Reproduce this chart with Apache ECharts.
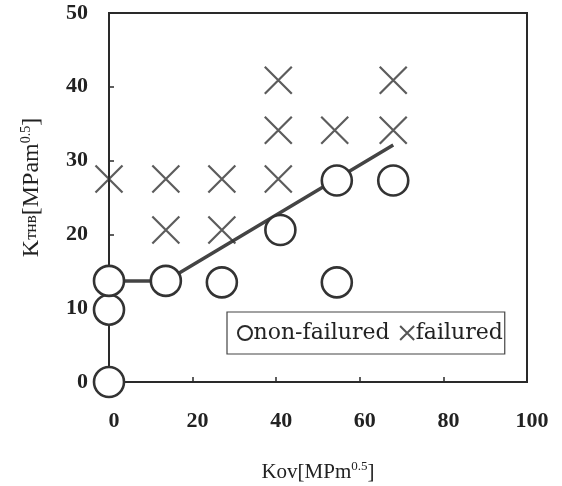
<!DOCTYPE html>
<html><head><meta charset="utf-8">
<script src="https://cdn.jsdelivr.net/npm/echarts@6/dist/echarts.min.js"></script>
<style>html,body{margin:0;padding:0;background:#fff}#c{width:562px;height:486px}</style>
</head><body><div id="c"></div>
<script>
const nonFailured = [[0,0],[0,9.8],[0,13.7],[13.6,13.7],[27,13.5],[54.5,13.5],[41,20.6],[54.5,27.3],[68,27.3]];
const failured = [[0,27.5],[13.6,27.5],[27,27.5],[40.5,27.5],[13.6,20.6],[27,20.6],[40.5,34.1],[54,34.1],[68,34.1],[40.5,40.9],[68,40.9]];
const fitLine = [[0,13.7],[13.6,13.7],[68,32.1]];
const xTicks = [0,20,40,60,80,100];
const yTicks = [0,10,20,30,40,50];

const font = 'Liberation Serif';
const ink = '#2a2a2a';
const crossPath = 'path://M0,0L10,10M10,0L0,10';
const chart = echarts.init(document.getElementById('c'));
chart.setOption({
  animation:false,
  backgroundColor:'#fff',
  grid:{left:109,right:35,top:13,bottom:104,show:true,borderColor:ink,borderWidth:2,containLabel:false,outerBoundsMode:'none'},
  xAxis:{type:'value',min:xTicks[0],max:xTicks[xTicks.length-1],interval:20,
    axisLine:{show:true,lineStyle:{color:ink,width:2}},
    axisTick:{show:true,inside:true,length:5,lineStyle:{color:ink,width:1.5}},
    splitLine:{show:false},
    axisLabel:{margin:28,padding:[0,0,0,10],fontFamily:font,fontSize:22,fontWeight:'bold',color:'#222'},
    name:'{b|Kov[MPm}{sup|0.5}{b|]}',nameLocation:'middle',nameGap:78,
    nameTextStyle:{rich:{b:{fontFamily:font,fontSize:21,color:'#222'},sup:{fontFamily:font,fontSize:13,color:'#222',verticalAlign:'bottom',padding:[0,0,11,0]}}}
  },
  yAxis:{type:'value',min:yTicks[0],max:yTicks[yTicks.length-1],interval:10,
    axisLine:{show:true,lineStyle:{color:ink,width:2}},
    axisTick:{show:true,inside:true,length:5,lineStyle:{color:ink,width:1.5}},
    splitLine:{show:false},
    axisLabel:{margin:21,padding:[9,0,0,0],fontFamily:font,fontSize:22,fontWeight:'bold',color:'#222'},
    name:'{b|K}{sub|тнв}{b|[MPam}{sup|0.5}{b|]}',nameLocation:'middle',nameGap:64,nameRotate:90,
    nameTextStyle:{padding:[0,0,0,20],rich:{b:{fontFamily:font,fontSize:24,color:'#222'},sub:{fontFamily:font,fontSize:17,color:'#222'},sup:{fontFamily:font,fontSize:14,color:'#222',verticalAlign:'bottom',padding:[0,0,12,0]}}}
  },
  legend:{
    left:227,top:312,
    padding:[10,2,10,10],itemGap:8,itemWidth:15,itemHeight:14,
    borderColor:'#444',borderWidth:1.2,borderRadius:0,
    textStyle:{fontFamily:'DejaVu Serif',fontSize:22,color:'#222',padding:[0,0,0,-4]},
    data:[
      {name:'non-failured',icon:'circle',itemStyle:{color:'#fff',borderColor:ink,borderWidth:2}},
      {name:'failured',icon:crossPath,itemStyle:{color:'none',borderColor:ink,borderWidth:2}}
    ]
  },
  series:[
    {type:'line',name:'fit',data:fitLine,symbol:'none',z:1,
      lineStyle:{color:'#444',width:3.5}},
    {type:'scatter',name:'failured',data:failured,symbol:crossPath,symbolSize:27,clip:false,z:3,
      itemStyle:{color:'none',borderColor:'#333',borderWidth:2.2}},
    {type:'scatter',name:'non-failured',data:nonFailured,symbol:'circle',symbolSize:30,clip:false,z:4,
      itemStyle:{color:'#fff',borderColor:'#333',borderWidth:2.6,opacity:1}}
  ]
});
</script></body></html>
